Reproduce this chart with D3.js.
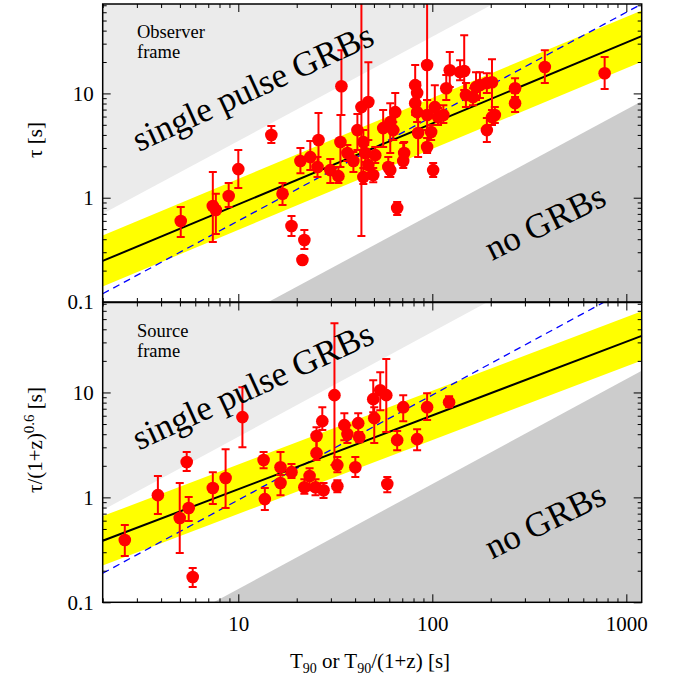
<!DOCTYPE html>
<html>
<head>
<meta charset="utf-8">
<script src="https://cdn.jsdelivr.net/npm/d3@7"></script>
<style>
body { margin: 0; background: #fff; }
svg text { font-family: "Liberation Serif", "Times New Roman", serif; }
</style>
</head>
<body>
<svg id="chart" width="675" height="684"></svg>
<script>
//Observer frame: T90, tau and the ends of the error bars
var obsT = [5.05,7.39,7.66,8.92,10.0,14.8,16.9,18.8,21.9,21.4,20.9,23.5,25.6,25.9,29.8,32.8,34.0,33.6,36.5,39.2,41.1,43.1,46.8,44.1,45.1,44.1,46.8,49.6,50.8,55.8,60.7,64.4,62.9,59.3,60.7,65.9,70.8,71.6,81.6,83.5,81.6,83.5,84.5,94.0,94.0,94.0,98.6,103,107,101,118,123,114,139,146,149,162,168,176,191,203,203,210,191,267,267,380,773]
var obsTau = [0.598,0.833,0.762,1.04,1.88,3.99,1.09,0.536,0.393,0.253,2.25,2.45,1.97,3.57,1.84,1.61,11.7,3.42,2.68,2.25,4.45,7.39,8.26,3.42,2.68,1.58,2.06,1.65,2.56,4.65,5.31,6.62,4.45,1.97,1.84,0.797,2.25,2.68,12.0,10.1,8.07,6.62,4.17,18.7,6.20,3.06,4.26,7.39,5.93,1.84,11.2,16.7,6.20,16.0,16.4,9.63,9.22,11.5,12.0,12.6,12.8,5.93,6.20,4.45,11.2,8.07,17.9,15.6]
var obsLo = [0.420,0.376,0.449,0.815,1.24,3.34,0.851,0.430,0.323,0.237,1.72,1.84,1.58,1.97,1.38,1.38,6.20,1.97,2.25,1.76,2.86,0.430,3.57,2.56,2.20,1.35,1.72,1.41,2.15,3.06,2.68,4.45,3.57,1.58,1.58,0.683,1.93,2.15,8.63,8.26,6.20,5.31,2.45,8.63,4.45,2.68,3.57,6.20,4.97,1.58,8.63,11.5,5.19,13.4,10.8,7.39,7.72,8.63,9.02,10.1,5.55,4.97,5.19,3.42,9.22,6.62,12.6,11.0]
var obsHi = [0.815,1.76,1.09,1.38,2.86,4.86,1.38,0.668,0.490,0.270,2.99,3.49,2.45,6.48,2.35,1.97,26.0,6.20,3.20,2.74,6.34,80,19.9,4.45,3.20,1.93,2.45,1.93,3.06,6.92,8.07,10.1,5.31,2.45,2.15,0.909,3.34,3.42,18.7,12.8,12.6,8.26,6.48,80,8.63,3.73,4.97,12.0,7.23,2.15,15.0,24.9,7.72,20.8,36.2,12.6,11.2,16.0,16.0,15.6,21.3,6.92,7.39,5.80,14.0,10.1,26.0,22.3]

//Source frame: T90/(1+z), tau/(1+z)^0.6 and error bar ends
var srcT = [2.60,3.85,5.42,4.99,5.55,5.82,7.39,8.60,10.5,13.5,13.7,16.5,16.5,18.8,21.9,23.3,25.3,25.3,27.1,25.0,27.5,31.3,32.4,32.4,35.2,36.5,40.1,41.5,42.0,49.6,50.2,53.9,57.9,58.6,70.8,65.9,94.0,83.5,122]
var srcTau = [0.392,1.05,2.17,0.635,0.791,0.174,1.23,1.53,5.82,2.27,0.963,1.94,1.37,1.74,1.25,1.60,2.64,3.84,5.33,1.25,1.17,9.43,2.03,1.28,4.88,4.01,1.94,5.10,3.75,8.63,5.69,10.5,9.43,1.34,7.24,3.51,7.24,3.59,8.08]
var srcLo = [0.276,0.693,1.78,0.295,0.595,0.140,0.863,0.791,3.01,1.90,0.757,1.63,1.05,1.53,1.08,1.17,2.27,2.82,4.38,1.05,0.985,2.03,1.74,1.12,3.51,3.29,1.56,4.10,3.36,6.49,3.29,6.78,4.19,1.12,5.33,2.82,5.45,2.82,7.24]
var srcHi = [0.545,1.60,2.70,1.37,1.01,0.212,1.74,2.88,11.2,2.70,1.23,2.70,1.63,2.08,1.49,1.90,3.59,4.67,7.24,1.49,1.37,45.7,2.42,1.46,6.35,4.88,2.42,6.35,4.19,13.1,7.24,15.6,20.8,1.56,9.43,4.28,9.85,4.47,9.22]

//Fit lines tau = a*T^b, with band half width in dex
var obsFit = [0.1446, 0.776, 0.245]
var srcFit = [0.237, 0.703, 0.235]
//tau = k*T lines: dashed, edge of light region, edge of dark region
var obsLines = [0.06, 0.35, 0.007]
var srcLines = [0.0945, 0.378, 0.0134]

//Tick values
var xMajor = [10, 100, 1000]
var xMinor = [2,3,4,5,6,7,8,9,20,30,40,50,60,70,80,90,200,300,400,500,600,700,800,900]
var yMajor = [0.1, 1, 10]
var yMinor = [0.2,0.3,0.4,0.5,0.6,0.7,0.8,0.9,2,3,4,5,6,7,8,9,20,30,40,50,60,70]

var svg = d3.select("#chart")
var left = 102.7, right = 641.7
var x = d3.scaleLog().domain([2, 1200]).range([left, right])

var panels = [
  {T: obsT, tau: obsTau, lo: obsLo, hi: obsHi, fit: obsFit, lines: obsLines,
   top: 4, bottom: 302, title: ["Observer", "frame"], last: false},
  {T: srcT, tau: srcTau, lo: srcLo, hi: srcHi, fit: srcFit, lines: srcLines,
   top: 302.5, bottom: 602.3, title: ["Source", "frame"], last: true}
]

panels.forEach(function(p, n) {
  var y = d3.scaleLog().domain([0.1, 72]).range([p.bottom, p.top])
  var clipId = "clip" + n
  svg.append("clipPath").attr("id", clipId)
    .append("rect")
    .attr("x", left).attr("y", p.top)
    .attr("width", right - left).attr("height", p.bottom - p.top)

  var g = svg.append("g").attr("clip-path", "url(#" + clipId + ")")
  var poly = d3.line().x(function(d){return x(d[0])}).y(function(d){return y(d[1])})
  var ends = [2, 1200]

  //Light region (upper left) and dark region (lower right)
  var c = p.lines[1], k = p.lines[2]
  g.append("path")
    .attr("d", poly([[2, c*2], [1200, c*1200], [1200, 1e5], [2, 1e5]]) + "Z")
    .attr("fill", "#ebebeb")
  g.append("path")
    .attr("d", poly([[2, k*2], [1200, k*1200], [1200, 1e-5], [2, 1e-5]]) + "Z")
    .attr("fill", "#cccccc")

  //Yellow band round the fit
  var fitTau = function(t){ return p.fit[0] * Math.pow(t, p.fit[1]) }
  var w = Math.pow(10, p.fit[2])
  var band = d3.area()
    .x(function(d){return x(d)})
    .y0(function(d){return y(fitTau(d) / w)})
    .y1(function(d){return y(fitTau(d) * w)})
  g.append("path").attr("d", band(ends)).attr("fill", "#ffff00")

  //Blue dashed line, slope one
  g.append("path")
    .attr("d", poly(ends.map(function(t){return [t, p.lines[0]*t]})))
    .attr("fill", "none").attr("stroke", "#0000ff")
    .attr("stroke-width", 1.3).attr("stroke-dasharray", "7,5")

  //Black fit line
  g.append("path")
    .attr("d", poly(ends.map(function(t){return [t, fitTau(t)]})))
    .attr("fill", "none").attr("stroke", "#000").attr("stroke-width", 2)

  //Error bars with caps
  var idx = d3.range(p.T.length)
  var eb = g.append("g").attr("stroke", "#ff0000").attr("stroke-width", 2)
  eb.selectAll(".bar").data(idx).enter().append("line")
    .attr("x1", function(i){return x(p.T[i])}).attr("x2", function(i){return x(p.T[i])})
    .attr("y1", function(i){return y(p.lo[i])}).attr("y2", function(i){return y(p.hi[i])})
  eb.selectAll(".capLo").data(idx).enter().append("line")
    .attr("x1", function(i){return x(p.T[i]) - 4}).attr("x2", function(i){return x(p.T[i]) + 4})
    .attr("y1", function(i){return y(p.lo[i])}).attr("y2", function(i){return y(p.lo[i])})
  eb.selectAll(".capHi").data(idx).enter().append("line")
    .attr("x1", function(i){return x(p.T[i]) - 4}).attr("x2", function(i){return x(p.T[i]) + 4})
    .attr("y1", function(i){return y(p.hi[i])}).attr("y2", function(i){return y(p.hi[i])})

  //Points
  g.selectAll(".dot").data(idx).enter().append("circle")
    .attr("cx", function(i){return x(p.T[i])})
    .attr("cy", function(i){return y(p.tau[i])})
    .attr("r", 6.3).attr("fill", "#ff0000")

  //Annotations
  g.append("text").attr("x", 137).attr("y", p.top + 34)
    .attr("font-size", 18.5).text(p.title[0])
  g.append("text").attr("x", 137).attr("y", p.top + 54)
    .attr("font-size", 18.5).text(p.title[1])
  g.append("text")
    .attr("transform", "translate(139," + (p.top + 148) + ") rotate(-24.5)")
    .attr("font-size", 35).text("single pulse GRBs")
  g.append("text")
    .attr("transform", "translate(492," + (p.top + 257) + ") rotate(-26)")
    .attr("font-size", 35).text("no GRBs")

  //Ticks on all four sides, pointing in
  function style(a) {
    a.select(".domain").remove()
    a.attr("font-family", null).attr("font-size", 21)
    a.selectAll("line").attr("stroke", "#000").attr("stroke-width", 1)
    a.selectAll("text").attr("fill", "#000")
  }
  var fmtY = function(d){ return d < 1 ? "0.1" : d3.format("d")(d) }
  svg.append("g").attr("transform", "translate(0," + p.bottom + ")")
    .call(d3.axisBottom(x).tickValues(xMajor).tickSize(-8).tickPadding(14)
      .tickFormat(p.last ? d3.format("d") : ""))
    .call(style)
  svg.append("g").attr("transform", "translate(0," + p.bottom + ")")
    .call(d3.axisBottom(x).tickValues(xMinor).tickSize(-4).tickFormat("")).call(style)
  svg.append("g").attr("transform", "translate(0," + p.top + ")")
    .call(d3.axisTop(x).tickValues(xMajor).tickSize(-8).tickFormat("")).call(style)
  svg.append("g").attr("transform", "translate(0," + p.top + ")")
    .call(d3.axisTop(x).tickValues(xMinor).tickSize(-4).tickFormat("")).call(style)
  svg.append("g").attr("transform", "translate(" + left + ",0)")
    .call(d3.axisLeft(y).tickValues(yMajor).tickSize(-8).tickPadding(9).tickFormat(fmtY))
    .call(style)
  svg.append("g").attr("transform", "translate(" + left + ",0)")
    .call(d3.axisLeft(y).tickValues(yMinor).tickSize(-4).tickFormat("")).call(style)
  svg.append("g").attr("transform", "translate(" + right + ",0)")
    .call(d3.axisRight(y).tickValues(yMajor).tickSize(-8).tickFormat("")).call(style)
  svg.append("g").attr("transform", "translate(" + right + ",0)")
    .call(d3.axisRight(y).tickValues(yMinor).tickSize(-4).tickFormat("")).call(style)

  //Frame
  svg.append("rect")
    .attr("x", left).attr("y", p.top)
    .attr("width", right - left).attr("height", p.bottom - p.top)
    .attr("fill", "none").attr("stroke", "#000").attr("stroke-width", 1.5)
})

//Axis titles
svg.append("text").attr("transform", "translate(42,140) rotate(-90)")
  .attr("text-anchor", "middle").attr("font-size", 21).text("τ [s]")
var yl = svg.append("text").attr("transform", "translate(42,440) rotate(-90)")
  .attr("text-anchor", "middle").attr("font-size", 21)
yl.append("tspan").text("τ/(1+z)")
yl.append("tspan").attr("dy", -8).attr("font-size", 15).text("0.6")
yl.append("tspan").attr("dy", 8).text(" [s]")

var xl = svg.append("text").attr("x", 370).attr("y", 668)
  .attr("text-anchor", "middle").attr("font-size", 21)
xl.append("tspan").text("T")
xl.append("tspan").attr("dy", 5).attr("font-size", 14).text("90")
xl.append("tspan").attr("dy", -5).text(" or T")
xl.append("tspan").attr("dy", 5).attr("font-size", 14).text("90")
xl.append("tspan").attr("dy", -5).text("/(1+z) [s]")
</script>
</body>
</html>
